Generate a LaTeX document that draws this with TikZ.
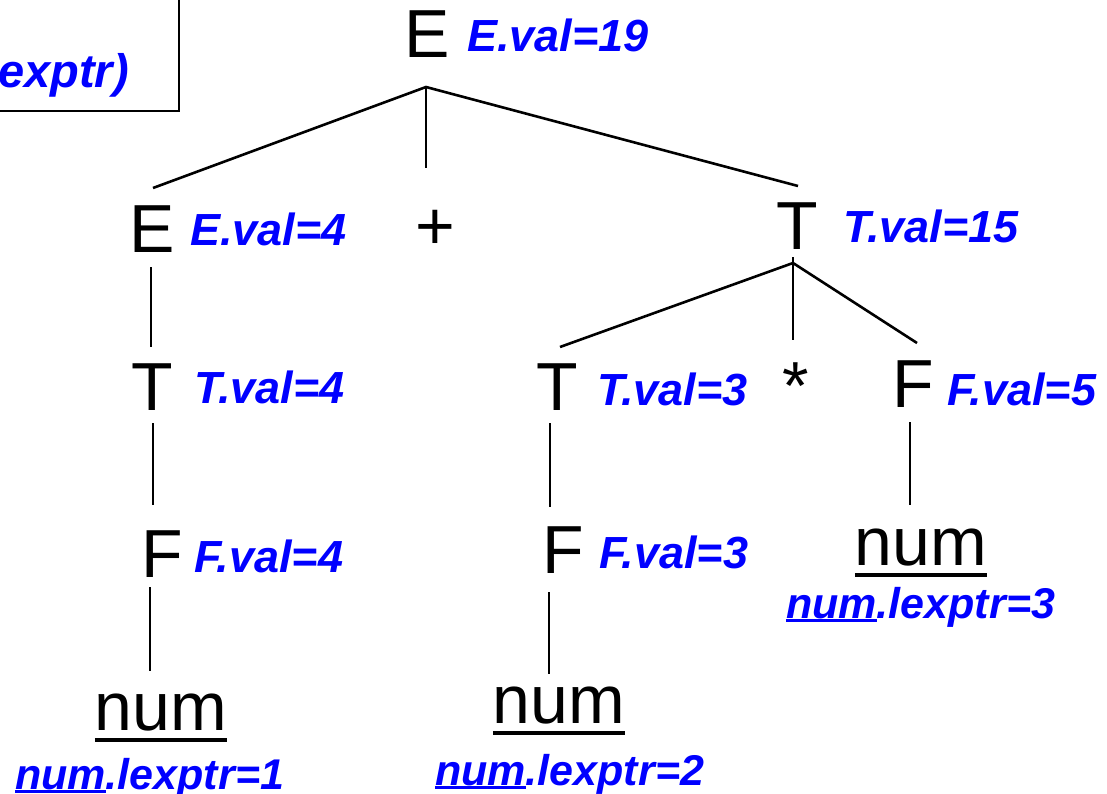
\documentclass[tikz,border=0pt]{standalone}
\usepackage{fontspec}
\setmainfont{Liberation Sans}
\definecolor{attrblue}{RGB}{0,0,255}
\newsavebox\ulbox
% grammar symbols and synthesized attributes
\newcommand\symsize{\fontsize{68}{70}\selectfont}
\newcommand\attrsize{\fontsize{45}{47}\selectfont\bfseries\itshape}
\newcommand\lexsize{\fontsize{43}{45}\selectfont\bfseries\itshape}
% token underline (thick, well below the baseline)
\newcommand\tokul[1]{\sbox\ulbox{#1}\leavevmode\rlap{\rule[-0.17em]{\wd\ulbox}{0.05em}}\usebox\ulbox}
% underline inside an attribute label
\newcommand\lexul[1]{\sbox\ulbox{#1}\leavevmode\rlap{\rule[-0.085em]{\wd\ulbox}{0.06em}}\usebox\ulbox}
\tikzset{
  sym/.style={inner sep=0pt, anchor=base, font=\symsize},
  symw/.style={inner sep=0pt, anchor=base west, font=\symsize},
  attr/.style={inner sep=0pt, anchor=base west, font=\attrsize, text=attrblue},
  lex/.style={inner sep=0pt, anchor=base west, font=\lexsize, text=attrblue},
  edge/.style={line width=2.6pt, line cap=butt},
}
\begin{document}
\begin{tikzpicture}[x=1pt, y=-1pt]
\useasboundingbox (0,0) rectangle (1107,794);

% partly visible rule box in the corner
\draw[line width=2pt] (-20,-20) rectangle (179,111);
\node[inner sep=0pt, anchor=base east, font=\fontsize{47}{49}\selectfont\bfseries\itshape, text=attrblue] (rule) at (129,88) {exptr)};

% root
\node[sym] (E0) at (427,58) {E};
\node[attr] (E0v) at (467,52) {E.val=19};

% second level
\node[sym] (E1) at (152,252) {E};
\node[attr] (E1v) at (190,245) {E.val=4};
\node[sym] (plus) at (435,249) {+};
\node[sym] (T1) at (797,250) {T};
\node[attr] (T1v) at (843,243) {T.val=15};

% left branch
\node[sym] (T2) at (152,410) {T};
\node[attr] (T2v) at (194,403) {T.val=4};
\node[symw] (F2) at (141,577) {F};
\node[attr] (F2v) at (194,572) {F.val=4};
\node[sym] (n1) at (161,730) {\tokul{num}};
\node[lex] (n1v) at (15,789) {\lexul{num}.lexptr=1};

% right subtree
\node[sym] (T3) at (557,410) {T};
\node[attr] (T3v) at (597,405) {T.val=3};
\node[sym] (times) at (796,409) {*};
\node[symw] (F4) at (892,407) {F};
\node[attr] (F4v) at (947,405) {F.val=5};
\node[symw] (F3) at (542,573) {F};
\node[attr] (F3v) at (599,568) {F.val=3};
\node[sym] (n2) at (559,723) {\tokul{num}};
\node[lex] (n2v) at (435,785) {\lexul{num}.lexptr=2};
\node[sym] (n3) at (921,565) {\tokul{num}};
\node[lex] (n3v) at (786,618) {\lexul{num}.lexptr=3};

% junctions and branch ends
\coordinate (j0) at (426,87);
\coordinate (e0a) at (153,188);
\coordinate (e0b) at (426,168);
\coordinate (e0c) at (798,186);
\coordinate (j1) at (793,263);
\coordinate (j1t) at (793,257);
\coordinate (e1a) at (560,347);
\coordinate (e1b) at (793,340);
\coordinate (e1c) at (917,343);
\coordinate (a1) at (151,267);  \coordinate (a2) at (151,347);
\coordinate (b1) at (153,423);  \coordinate (b2) at (153,505);
\coordinate (c1) at (150,587);  \coordinate (c2) at (150,671);
\coordinate (d1) at (550,423);  \coordinate (d2) at (550,507);
\coordinate (f1) at (549,592);  \coordinate (f2) at (549,674);
\coordinate (g1) at (910,422);  \coordinate (g2) at (910,505);

% parse tree edges
\draw[edge] (e0a) -- (j0) -- (e0c);
\draw[edge] (j0) -- (e0b);
\draw[edge] (e1a) -- (j1) -- (e1c);
\draw[edge] (j1t) -- (e1b);
\draw[edge] (a1) -- (a2);
\draw[edge] (b1) -- (b2);
\draw[edge] (c1) -- (c2);
\draw[edge] (d1) -- (d2);
\draw[edge] (f1) -- (f2);
\draw[edge] (g1) -- (g2);
\end{tikzpicture}
\end{document}
